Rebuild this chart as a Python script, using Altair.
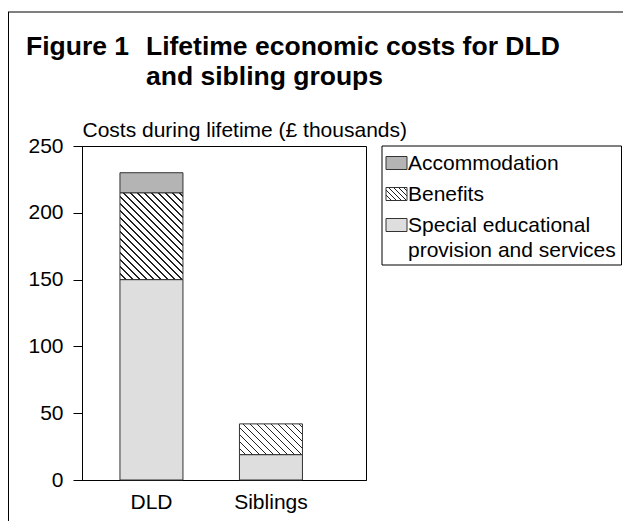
import altair as alt
import pandas as pd
import math

# ---------------- data ----------------
groups = ["DLD", "Siblings"]
categories = ["Special educational provision and services", "Benefits", "Accommodation"]
special = [150, 19]
benefits = [65, 23]
accommodation = [15, 0]
y_ticks = [0, 50, 100, 150, 200, 250]
legend_order = ["Accommodation", "Benefits", "Special educational provision and services"]
legend_labels = [["Accommodation"], ["Benefits"], ["Special educational", "provision and services"]]
title_lines = ["Lifetime economic costs for DLD", "and sibling groups"]
figure_label = "Figure 1"
y_title = "Costs during lifetime (£ thousands)"

SPECIAL, BEN, ACC = categories
rows = []
for i, g in enumerate(groups):
    for j, (cat, vals) in enumerate(zip(categories, [special, benefits, accommodation])):
        if vals[i] > 0:
            rows.append({"group": g, "category": cat, "value": vals[i], "order": j})
df = pd.DataFrame(rows)
legend_df = pd.DataFrame({"category": legend_order, "label": legend_labels})

# ---------------- style ----------------
FONT = "Liberation Sans"
FS = 21
TFS = 26.5
W, H = 284, 334
PAD_L, PAD_T = 74, 138
SVG_W, SVG_H = 615, 513
BAR = 63
PX = H / 250.0
C_ACC = "#b4b4b4"
C_SPEC = "#dedede"
C_EDGE = "#333333"
SYM_W, SYM_H = 21, 13


def hatch(w, h, period=7.0, lw=1.5, color="#222222"):
    """Diagonal '\\' hatch as a hard-stop linear gradient (45 deg in pixel space)."""
    k = (w + h) / (w * w + h * h)
    x1, y1 = 0.0, 1.0
    x2, y2 = k * w, 1.0 - k * h
    tot = w + h
    hw = (lw / 2.0) / tot
    stops = [{"offset": 0.0, "color": "white"}]
    n0 = math.ceil(-h / period) - 1
    n1 = math.floor(w / period) + 1
    for n in range(n0, n1 + 1):
        c = n * period + period / 2.0
        t = (c + h) / tot
        a = max(0.0, t - hw)
        b = min(1.0, t + hw)
        if a >= 1.0 or b <= 0.0:
            continue
        stops += [
            {"offset": round(a, 5), "color": "white"},
            {"offset": round(a, 5), "color": color},
            {"offset": round(b, 5), "color": color},
            {"offset": round(b, 5), "color": "white"},
        ]
    stops.append({"offset": 1.0, "color": "white"})
    return {"gradient": "linear", "x1": x1, "y1": y1, "x2": x2, "y2": y2, "stops": stops}


fill_scale = alt.Scale(domain=legend_order, range=[C_ACC, "white", C_SPEC])

bar_conds = [
    {"test": f"datum.category === '{BEN}' && datum.group === '{g}'",
     "value": hatch(BAR, benefits[i] * PX)}
    for i, g in enumerate(groups)
]

bars = alt.Chart(df).mark_bar(stroke=C_EDGE, strokeWidth=1).encode(
    x=alt.X(
        "group:N",
        sort=groups,
        scale=alt.Scale(paddingInner=0.4728, paddingOuter=0.4247, align=0.374),
        axis=alt.Axis(title=None, ticks=False, tickSize=0, labelPadding=11, labelAngle=0,
                      labelFont=FONT, labelFontSize=FS, labelColor="black",
                      domainColor="black"),
    ),
    y=alt.Y(
        "value:Q",
        stack="zero",
        scale=alt.Scale(domain=[0, 250], nice=False),
        axis=alt.Axis(values=y_ticks, grid=False, tickSize=9, labelPadding=10,
                      labelFont=FONT, labelFontSize=FS, labelColor="black",
                      tickColor="black", domainColor="black",
                      title=y_title, titleAngle=0, titleX=0, titleY=-10,
                      titleAlign="left", titleBaseline="alphabetic",
                      titleFont=FONT, titleFontSize=FS, titleFontWeight="normal",
                      titleColor="black"),
    ),
    fill=alt.Fill("category:N", scale=fill_scale, legend=None, condition=bar_conds),
    order=alt.Order("order:Q", sort="ascending"),
)

# ---------------- manual legend ----------------
leg_y = alt.Y("category:N", sort=legend_order,
              scale=alt.Scale(type="point", domain=legend_order, range=[17, 79], padding=0),
              axis=None)

one = pd.DataFrame({"k": [0]})

legend_box = alt.Chart(one).mark_rect(fill="white", stroke="black", strokeWidth=1).encode(
    x=alt.value(300), x2=alt.value(SVG_W - PAD_L - 1.5), y=alt.value(0), y2=alt.value(119)
)

sym_path = f"M{-SYM_W / SYM_H:.4f},-1H{SYM_W / SYM_H:.4f}V1H{-SYM_W / SYM_H:.4f}Z"
legend_sym = alt.Chart(legend_df).mark_point(
    shape=sym_path, size=SYM_H * SYM_H, filled=True, stroke=C_EDGE, strokeWidth=1, opacity=1
).encode(
    x=alt.value(314.5),
    y=leg_y,
    fill=alt.Fill("category:N", scale=fill_scale, legend=None,
                  condition=[{"test": f"datum.category === '{BEN}'",
                              "value": hatch(SYM_W, SYM_H, period=5.0, lw=1.2)}]),
)

legend_txt = alt.Chart(legend_df).mark_text(
    font=FONT, fontSize=FS, align="left", baseline="alphabetic", dy=7, lineHeight=24.5,
    color="black",
).encode(x=alt.value(326), y=leg_y, text="label")

# ---------------- titles & frame ----------------
fig_label = alt.Chart(one).mark_text(
    text=figure_label, font=FONT, fontSize=TFS, fontWeight="bold",
    align="left", baseline="alphabetic", color="black",
).encode(x=alt.value(-56), y=alt.value(-91))

title_text = alt.Chart(one).mark_text(
    text=title_lines, font=FONT, fontSize=TFS, fontWeight="bold",
    align="left", baseline="alphabetic", lineHeight=30, color="black",
).encode(x=alt.value(64), y=alt.value(-91))

frame_top = alt.Chart(one).mark_rule(color="black", strokeWidth=1).encode(
    x=alt.value(-PAD_L), x2=alt.value(SVG_W - PAD_L), y=alt.value(-134)
)
frame_left = alt.Chart(one).mark_rule(color="black", strokeWidth=1).encode(
    x=alt.value(-PAD_L + 0.5), y=alt.value(-134), y2=alt.value(SVG_H - PAD_T)
)

chart = alt.layer(
    bars, legend_box, legend_sym, legend_txt, fig_label, title_text, frame_top, frame_left
).resolve_scale(y="independent").properties(
    width=W,
    height=H,
    autosize=alt.AutoSizeParams(type="none"),
    padding={"left": PAD_L, "top": PAD_T, "right": SVG_W - PAD_L - W, "bottom": SVG_H - PAD_T - H},
    background="white",
).configure_view(stroke="black", strokeWidth=1)

chart.save("out.html", embed_options={"renderer": "svg", "actions": False})
